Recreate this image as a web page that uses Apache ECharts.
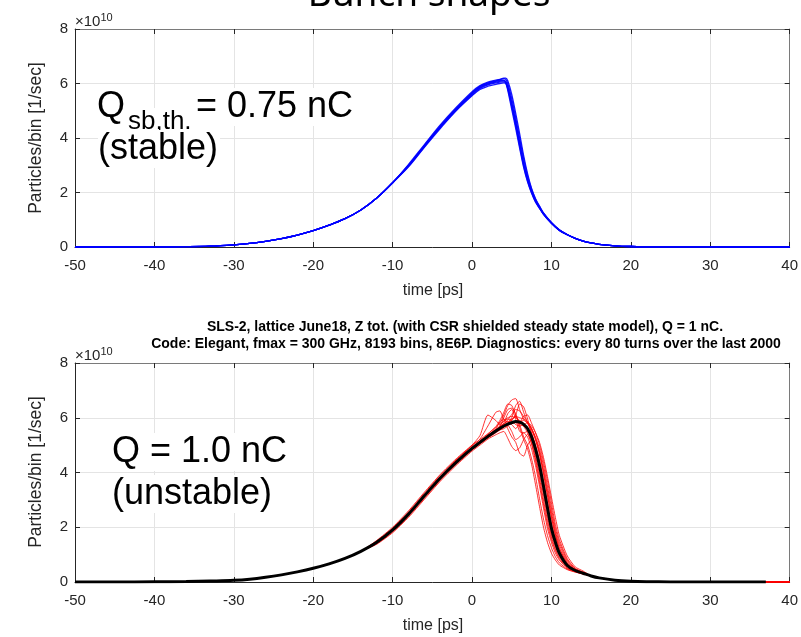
<!DOCTYPE html>
<html>
<head>
<meta charset="utf-8">
<script src="https://cdn.jsdelivr.net/npm/echarts@6/dist/echarts.min.js"></script>
<style>
  html, body { margin: 0; padding: 0; background: #ffffff; }
  #chart { width: 801px; height: 637px; }
</style>
</head>
<body>
<div id="chart"></div>
<script>
// Tick labels shared by both panels
const xTicks = [-50, -40, -30, -20, -10, 0, 10, 20, 30, 40];
const yTicks = [0, 2, 4, 6, 8];

// ---- Upper panel: Q = 0.75 nC, bunch profiles (units of 1e10 particles/bin/s)
// outer part of the profile, common to every turn
const tTopOuter = [-50, -45, -40, -36, -33, -30, -28, -26, -24, -22, -20, -18, -16, -14, -12, -10,
                   13, 14, 15, 16, 18, 20, 22, 25, 30, 35, 40];
const vTopOuter = [0, 0.001, 0.004, 0.012, 0.03, 0.08, 0.13, 0.21, 0.31, 0.44, 0.6, 0.8, 1.04, 1.36, 1.8, 2.36,
                   0.32, 0.22, 0.15, 0.1, 0.045, 0.018, 0.008, 0.003, 0.001, 0, 0];
// core of the profile, one row per recorded turn
const tTopCore = [-8, -6, -4, -2, 0, 1, 2, 3, 3.5, 4, 4.25, 4.5, 5, 5.5, 6, 6.5, 7, 7.5, 8, 8.5, 9, 10, 11, 12];
const blueTurn0 = [2.98, 3.7, 4.4, 5.05, 5.62, 5.85, 5.98, 6.05, 6.08, 6.1, 6.08, 5.9, 5.3, 4.6, 3.85, 3.1, 2.5, 2.05, 1.7, 1.45, 1.22, 0.88, 0.62, 0.45];
const blueTurn1 = [3.03, 3.76, 4.48, 5.12, 5.7, 5.92, 6.05, 6.12, 6.15, 6.18, 6.15, 6.0, 5.45, 4.75, 4.0, 3.25, 2.6, 2.12, 1.75, 1.48, 1.24, 0.89, 0.62, 0.45];
const blueTurn2 = [2.94, 3.66, 4.35, 5.0, 5.55, 5.78, 5.9, 5.97, 6.0, 6.02, 6.0, 5.8, 5.15, 4.45, 3.7, 2.98, 2.42, 2.0, 1.66, 1.43, 1.2, 0.87, 0.61, 0.45];
const blueTurn3 = [3.0, 3.73, 4.44, 5.08, 5.66, 5.9, 6.02, 6.1, 6.14, 6.2, 6.2, 6.1, 5.6, 4.9, 4.15, 3.35, 2.68, 2.15, 1.77, 1.5, 1.25, 0.9, 0.63, 0.46];
const blueTurn4 = [2.96, 3.68, 4.38, 5.02, 5.58, 5.82, 5.95, 6.02, 6.05, 6.06, 6.02, 5.75, 5.05, 4.35, 3.62, 2.92, 2.38, 1.97, 1.64, 1.42, 1.2, 0.87, 0.61, 0.45];
const blueTurn5 = [2.99, 3.71, 4.42, 5.06, 5.64, 5.88, 6.0, 6.08, 6.12, 6.12, 6.04, 5.85, 5.25, 4.55, 3.8, 3.05, 2.48, 2.04, 1.69, 1.45, 1.22, 0.88, 0.62, 0.45];

// ---- Lower panel: Q = 1.0 nC, average profile (black) and single turns (red)
const tBotOuter = [-50, -45, -40, -36, -33, -30, -28, -26, -24, -22, -20, -18, -16, -14,
                   15, 16, 18, 20, 22, 25, 30, 37];
const vBotOuter = [0, 0.002, 0.006, 0.015, 0.035, 0.06, 0.1, 0.17, 0.26, 0.37, 0.5, 0.66, 0.86, 1.12,
                   0.22, 0.15, 0.065, 0.025, 0.01, 0.004, 0.001, 0];
const tRedTail = [40];
const vRedTail = [0];
const tBotCore = [-12, -10, -8, -6, -4, -2, 0, 1, 2, 3, 3.5, 4, 4.5, 5, 5.5, 6, 6.5, 7, 7.5, 8, 8.5, 9, 9.5, 10, 10.5, 11, 12, 13, 14];
const blackMean = [1.45, 1.9, 2.48, 3.15, 3.8, 4.37, 4.88, 5.1, 5.32, 5.52, 5.61, 5.7, 5.77, 5.82, 5.86, 5.84, 5.76, 5.6, 5.3, 4.85, 4.25, 3.5, 2.7, 1.96, 1.45, 1.05, 0.6, 0.42, 0.32];
const redTurn1  = [1.52, 2.0, 2.6, 3.28, 3.93, 4.5, 5.0, 5.2, 5.42, 5.65, 5.8, 6.1, 6.45, 6.65, 6.7, 6.3, 5.95, 5.8, 5.55, 5.2, 4.7, 4.0, 3.2, 2.4, 1.75, 1.25, 0.7, 0.45, 0.34];
const redTurn2  = [1.38, 1.8, 2.36, 3.02, 3.68, 4.26, 4.78, 5.0, 5.22, 5.38, 5.45, 5.5, 5.25, 4.95, 4.8, 4.9, 5.2, 5.4, 5.05, 4.4, 3.65, 2.85, 2.1, 1.55, 1.15, 0.85, 0.52, 0.39, 0.3];
const redTurn3  = [1.5, 1.96, 2.56, 3.24, 3.9, 4.46, 4.97, 5.22, 5.7, 6.2, 6.25, 5.95, 5.85, 5.95, 6.05, 6.0, 5.95, 5.85, 5.7, 5.45, 5.1, 4.55, 3.85, 3.1, 2.35, 1.7, 0.95, 0.55, 0.4];
const redTurn4  = [1.4, 1.83, 2.4, 3.06, 3.72, 4.3, 4.82, 5.05, 5.28, 5.5, 5.68, 6.0, 6.3, 6.35, 6.15, 5.65, 5.2, 4.85, 4.3, 3.55, 2.75, 2.0, 1.45, 1.05, 0.8, 0.62, 0.45, 0.36, 0.29];
const redTurn5  = [1.46, 1.9, 2.49, 3.16, 3.82, 4.4, 4.9, 5.11, 5.33, 5.52, 5.63, 5.76, 5.92, 6.12, 6.3, 6.25, 6.05, 5.85, 5.6, 5.3, 4.85, 4.25, 3.5, 2.7, 1.96, 1.45, 0.8, 0.48, 0.35];
const redTurn6  = [1.45, 1.9, 2.48, 3.15, 3.8, 4.38, 4.9, 5.12, 5.34, 5.6, 5.85, 5.95, 5.6, 5.3, 5.1, 4.7, 4.6, 5.0, 5.2, 4.9, 4.3, 3.55, 2.75, 2.0, 1.48, 1.07, 0.61, 0.42, 0.32];
const redTurn7  = [1.45, 1.89, 2.47, 3.14, 3.79, 4.36, 4.87, 5.09, 5.3, 5.48, 5.56, 5.66, 5.8, 6.0, 6.45, 6.6, 6.2, 5.8, 5.45, 5.0, 4.45, 3.7, 2.9, 2.15, 1.58, 1.15, 0.64, 0.43, 0.33];
const redTurn8  = [1.45, 1.9, 2.48, 3.16, 3.82, 4.4, 4.91, 5.13, 5.36, 5.58, 5.68, 5.8, 6.15, 6.3, 5.95, 5.5, 5.45, 5.5, 5.15, 4.6, 3.95, 3.2, 2.4, 1.75, 1.3, 0.97, 0.57, 0.41, 0.31];
const redTurn9  = [1.45, 1.9, 2.47, 3.14, 3.79, 4.37, 4.87, 5.09, 5.31, 5.52, 5.66, 5.78, 5.85, 5.75, 5.6, 5.8, 6.05, 6.1, 5.8, 5.45, 5.0, 4.4, 3.7, 2.9, 2.1, 1.55, 0.85, 0.5, 0.36];
const redTurn10 = [1.45, 1.9, 2.48, 3.15, 3.81, 4.39, 4.89, 5.11, 5.33, 5.54, 5.63, 5.72, 5.8, 5.92, 6.1, 6.5, 6.4, 5.95, 5.4, 4.85, 4.2, 3.45, 2.65, 1.92, 1.42, 1.03, 0.59, 0.41, 0.31];
const redTurn11 = [1.44, 1.89, 2.47, 3.14, 3.79, 4.36, 4.86, 5.07, 5.28, 5.48, 5.58, 5.66, 5.72, 5.5, 5.2, 5.3, 5.45, 5.3, 4.85, 4.25, 3.5, 2.7, 1.96, 1.45, 1.05, 0.8, 0.5, 0.38, 0.3];
const redTurn12 = [1.46, 1.91, 2.49, 3.16, 3.82, 4.39, 4.9, 5.12, 5.35, 5.57, 5.7, 5.88, 5.95, 5.9, 5.75, 5.7, 5.75, 5.82, 5.6, 5.2, 4.65, 3.95, 3.15, 2.35, 1.7, 1.22, 0.68, 0.45, 0.33];
const redTurn13 = [1.45, 1.9, 2.48, 3.16, 3.84, 4.45, 5.0, 5.35, 6.1, 5.9, 5.75, 5.9, 6.0, 6.05, 6.0, 5.9, 5.8, 5.62, 5.35, 4.9, 4.3, 3.55, 2.75, 2.0, 1.48, 1.07, 0.61, 0.42, 0.32];
const redTurn14 = [1.44, 1.88, 2.46, 3.13, 3.78, 4.35, 4.85, 5.07, 5.29, 5.49, 5.58, 5.67, 5.74, 5.79, 5.82, 5.78, 5.68, 5.45, 5.05, 4.5, 3.8, 3.0, 2.25, 1.65, 1.2, 0.9, 0.55, 0.4, 0.31];
const redTurn15 = [1.46, 1.91, 2.49, 3.17, 3.83, 4.41, 4.92, 5.15, 5.4, 5.68, 5.9, 6.2, 6.5, 6.45, 6.1, 5.85, 5.9, 5.8, 5.6, 5.25, 4.75, 4.1, 3.35, 2.55, 1.85, 1.35, 0.75, 0.46, 0.34];
const redTurn16 = [1.44, 1.88, 2.46, 3.12, 3.77, 4.34, 4.84, 5.05, 5.26, 5.45, 5.55, 5.6, 5.7, 5.9, 6.05, 5.75, 5.3, 5.0, 4.5, 3.85, 3.05, 2.3, 1.7, 1.25, 0.92, 0.7, 0.47, 0.37, 0.29];

// Join the common outer samples with one turn's core samples, ordered by time
function profile(tOuter, vOuter, tCore, vCore, tExtra, vExtra) {
  const pts = [];
  tOuter.forEach((t, i) => pts.push([t, vOuter[i]]));
  tCore.forEach((t, i) => pts.push([t, vCore[i]]));
  if (tExtra) tExtra.forEach((t, i) => pts.push([t, vExtra[i]]));
  pts.sort((a, b) => a[0] - b[0]);
  return pts;
}

const TXT = '#262626';
const TICK_FONT = '"Liberation Sans Narrow", "Liberation Sans", Arial, sans-serif';
const LABEL_FONT = '"Liberation Sans", Arial, sans-serif';
const GRID_COLOR = '#e4e4e4';

function bottomX(gridIndex) {
  return {
    type: 'value', gridIndex, position: 'bottom', min: -50, max: 40, interval: 10,
    axisLine: { show: true, onZero: false, lineStyle: { color: TXT, width: 1 } },
    axisTick: { show: true, inside: true, length: 5, lineStyle: { color: TXT } },
    axisLabel: { show: true, margin: 11, color: TXT, fontSize: 15, fontFamily: TICK_FONT,
                 formatter: v => xTicks.includes(v) ? String(v) : '' },
    splitLine: { show: true, lineStyle: { color: GRID_COLOR, width: 1 } }
  };
}
function topX(gridIndex) {
  return {
    type: 'value', gridIndex, position: 'top', min: -50, max: 40, interval: 10,
    axisLine: { show: true, onZero: false, lineStyle: { color: '#7a7a7a', width: 1 } },
    axisTick: { show: true, inside: true, length: 5, lineStyle: { color: TXT } },
    axisLabel: { show: false }, splitLine: { show: false }
  };
}
function leftY(gridIndex) {
  return {
    type: 'value', gridIndex, position: 'left', min: 0, max: 8, interval: 2,
    axisLine: { show: true, onZero: false, lineStyle: { color: TXT, width: 1 } },
    axisTick: { show: true, inside: true, length: 5, lineStyle: { color: TXT } },
    axisLabel: { show: true, margin: 7, color: TXT, fontSize: 15, fontFamily: TICK_FONT,
                 formatter: v => yTicks.includes(v) ? String(v) : '' },
    splitLine: { show: true, lineStyle: { color: GRID_COLOR, width: 1 } }
  };
}
function rightY(gridIndex) {
  return {
    type: 'value', gridIndex, position: 'right', min: 0, max: 8, interval: 2,
    axisLine: { show: true, onZero: false, lineStyle: { color: '#7a7a7a', width: 1 } },
    axisTick: { show: true, inside: true, length: 5, lineStyle: { color: TXT } },
    axisLabel: { show: false }, splitLine: { show: false }
  };
}

function curve(data, xi, yi, color, width, opacity, z, smooth) {
  return {
    type: 'line', xAxisIndex: xi, yAxisIndex: yi, data,
    showSymbol: false, symbol: 'none', smooth, silent: true, animation: false, z,
    lineStyle: { color, width, opacity }
  };
}

const blueTurns = [blueTurn0, blueTurn1, blueTurn2, blueTurn3, blueTurn4, blueTurn5];
const redTurns = [redTurn1, redTurn2, redTurn3, redTurn4, redTurn5, redTurn6, redTurn7, redTurn8,
                  redTurn9, redTurn10, redTurn11, redTurn12, redTurn13, redTurn14, redTurn15, redTurn16];

const series = [];
blueTurns.forEach(v => series.push(curve(profile(tTopOuter, vTopOuter, tTopCore, v), 0, 0, '#0000ff', 1.3, 0.9, 3, 0.35)));
redTurns.forEach(v => series.push(curve(profile(tBotOuter, vBotOuter, tBotCore, v, tRedTail, vRedTail), 2, 2, '#ff0000', 1, 0.8, 3, 0.2)));
series.push(curve(profile(tBotOuter, vBotOuter, tBotCore, blackMean), 2, 2, '#000000', 3, 1, 4, 0.35));

const ANNOT_FONT = '"Liberation Sans", Arial, sans-serif';

function exponent(x, y) {
  return {
    type: 'text', x, y, silent: true,
    style: {
      text: '{b|×10}{s|10}',
      verticalAlign: 'middle',
      rich: {
        b: { fontSize: 15, fontFamily: TICK_FONT, fill: TXT, lineHeight: 22, verticalAlign: 'bottom' },
        s: { fontSize: 11, fontFamily: TICK_FONT, fill: TXT, lineHeight: 30, verticalAlign: 'bottom', padding: [0, 0, 6, 0] }
      }
    }
  };
}

// Annotation text on a white box, so grid lines stop at its edges
function boxedText(x, y, text, size) {
  return { type: 'text', x, y, silent: true, z: 10,
    style: { text, fontSize: size, fontFamily: ANNOT_FONT, fill: '#000', verticalAlign: 'middle',
             backgroundColor: '#ffffff', padding: [1, 2, 1, 0] } };
}

const graphic = [
  { type: 'text', x: 429, y: -5, silent: true,
    style: { text: 'Bunch shapes', fontSize: 37, fontFamily: '"Noto Sans", "Open Sans", sans-serif',
             fill: '#000', align: 'center', verticalAlign: 'middle' } },
  exponent(75, 14.5),
  exponent(75, 348.5),
  { type: 'text', x: 36, y: 138, rotation: Math.PI / 2, silent: true,
    style: { text: 'Particles/bin [1/sec]', fontSize: 17.5, fontFamily: LABEL_FONT, fill: TXT,
             align: 'center', verticalAlign: 'middle' } },
  { type: 'text', x: 36, y: 472, rotation: Math.PI / 2, silent: true,
    style: { text: 'Particles/bin [1/sec]', fontSize: 17.5, fontFamily: LABEL_FONT, fill: TXT,
             align: 'center', verticalAlign: 'middle' } },
  { type: 'text', x: 433, y: 291, silent: true,
    style: { text: 'time [ps]', fontSize: 16, fontFamily: TICK_FONT, fill: TXT, align: 'center', verticalAlign: 'middle' } },
  { type: 'text', x: 433, y: 626, silent: true,
    style: { text: 'time [ps]', fontSize: 16, fontFamily: TICK_FONT, fill: TXT, align: 'center', verticalAlign: 'middle' } },
  { type: 'text', x: 465, y: 327, silent: true,
    style: { text: 'SLS-2, lattice June18, Z tot. (with CSR shielded steady state model), Q = 1 nC.',
             fontSize: 14, fontWeight: 'bold', fontFamily: TICK_FONT, fill: '#000', align: 'center', verticalAlign: 'middle' } },
  { type: 'text', x: 466, y: 344, silent: true,
    style: { text: 'Code: Elegant, fmax = 300 GHz, 8193 bins, 8E6P. Diagnostics: every 80 turns over the last 2000',
             fontSize: 14, fontWeight: 'bold', fontFamily: TICK_FONT, fill: '#000', align: 'center', verticalAlign: 'middle' } },
  boxedText(97, 107, 'Q', 36),
  boxedText(128, 122, 'sb,th.', 26),
  boxedText(196, 107, '= 0.75 nC', 36),
  boxedText(98, 149, '(stable)', 36),
  boxedText(112, 452, 'Q = 1.0 nC', 36),
  boxedText(112, 494, '(unstable)', 36)
];

const chart = echarts.init(document.getElementById('chart'), null, { renderer: 'canvas' });
chart.setOption({
  backgroundColor: '#ffffff',
  animation: false,
  grid: [
    { left: 75, right: 10, top: 29, height: 218 },
    { left: 75, right: 10, top: 363, height: 219 }
  ],
  xAxis: [bottomX(0), topX(0), bottomX(1), topX(1)],
  yAxis: [leftY(0), rightY(0), leftY(1), rightY(1)],
  series,
  graphic
});
</script>
</body>
</html>
